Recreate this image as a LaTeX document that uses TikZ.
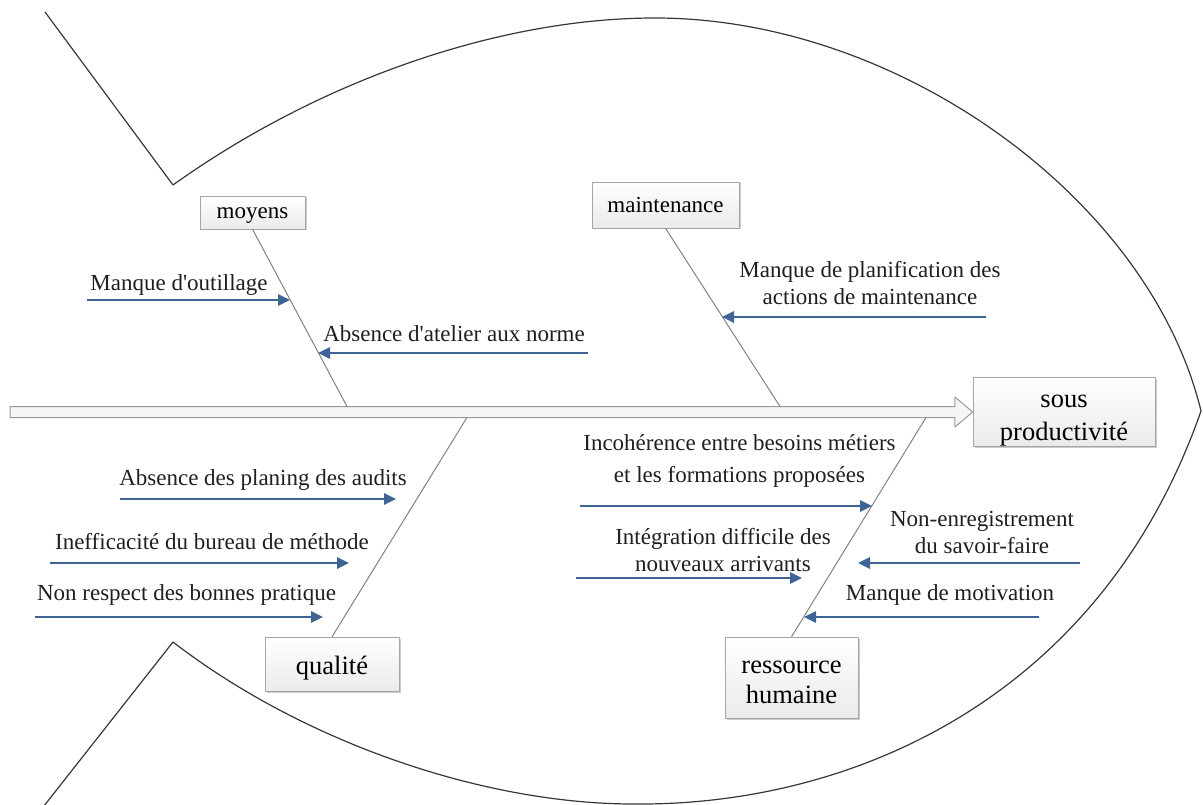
\documentclass[tikz,border=0pt]{standalone}
\usepackage{fontspec}
\setmainfont{Liberation Serif}
\usepackage{xcolor}
\usepackage{tikz}
\usetikzlibrary{
		calc,
		arrows.meta,
		shadows
	}
\definecolor{causeblue}{RGB}{62,100,150}
\definecolor{bonegray}{RGB}{130,130,130}
\definecolor{fishgray}{RGB}{55,55,55}
\tikzset{
		>={Triangle[length=12pt,width=11pt]},
		catbox/.style={draw=gray!70,top color=white,bottom color=gray!16,inner sep=0pt,align=center,
			drop shadow={shadow xshift=1.5pt,shadow yshift=-1.5pt,fill=black,opacity=0.2}},
		causetext/.style={align=center,inner sep=0pt,text=black!88,font=\fontsize{23}{27}\selectfont},
		causearrow/.style={->,draw=causeblue,line width=2.7pt},
		bone/.style={draw=bonegray,line width=1pt},
		spine/.style={draw=gray!80,fill=gray!8,line width=1pt},
		fish/.style={draw=fishgray,line width=1.2pt}
	}

\begin{document}
\begin{tikzpicture}[x=1pt,y=-1pt,line join=round]
          \useasboundingbox (0,0) rectangle (1203,805);

          % fish body
          \begin{scope}
          \clip (0,0) rectangle (1203,805);
          \draw[fish] (45,12) -- (173,185) .. controls (320,80) and (500,18) .. (655,18)
               .. controls (900,18) and (1150,200) .. (1201,411);
          \draw[fish] (40,811) -- (173,642) .. controls (300,740) and (480,804) .. (634,804)
               .. controls (850,806) and (1100,700) .. (1201,411);
          \end{scope}

          % categories
          \node[catbox,minimum width=105,minimum height=33,font=\fontsize{23}{27}\selectfont] (moyens) at (252.5,212.5) {\rule{0pt}{17pt}moyens};
          \node[catbox,minimum width=147,minimum height=46,font=\fontsize{23}{27}\selectfont] (maint) at (665.5,205) {maintenance};
          \node[catbox,minimum width=134,minimum height=54,font=\fontsize{26.5}{30}\selectfont] (qualite) at (332,664) {\rule{0pt}{26pt}qualité};
          \node[catbox,minimum width=133,minimum height=81,font=\fontsize{26.5}{30}\selectfont] (rh) at (791.5,677.5) {\rule{0pt}{22pt}ressource\\humaine};
          \node[catbox,minimum width=182,minimum height=68,font=\fontsize{26.5}{33}\selectfont] (prod) at (1064,412) {\rule{0pt}{30pt}sous\\productivité};

          % spine
          \coordinate (tip) at (prod.west);
          \draw[spine] (10,406.5) -- ($(tip)+(-18,-5.5)$) -- ($(tip)+(-18,-15)$) -- (tip)
               -- ($(tip)+(-18,15)$) -- ($(tip)+(-18,5.5)$) -- (10,417.5) -- cycle;

          % bones
          \coordinate (s1) at (347,406.5);
          \coordinate (s2) at (780,406.5);
          \coordinate (s3) at (467,417.5);
          \coordinate (s4) at (926,417.5);
          \draw[bone] (moyens.south) -- (s1);
          \draw[bone] (maint.south) -- (s2);
          \draw[bone] (qualite.north) -- (s3);
          \draw[bone] (rh.north) -- (s4);

          % moyens
          \node[causetext] (c1) at (179,285) {Manque d\textquotesingle outillage};
          \coordinate (a1) at (87,300);
          \coordinate (b1) at (290,300);
          \draw[causearrow] (a1) -- (b1);
          \node[causetext] (c2) at (454,334) {Absence d\textquotesingle atelier aux norme};
          \coordinate (a2) at (588,353);
          \coordinate (b2) at (318,353);
          \draw[causearrow] (a2) -- (b2);

          % maintenance
          \node[causetext] (c3) at (870,283.5) {Manque de planification des\\actions de maintenance};
          \coordinate (a3) at (986,317);
          \coordinate (b3) at (722,317);
          \draw[causearrow] (a3) -- (b3);

          % qualite
          \node[causetext] (c4) at (263,480) {Absence des planing des audits};
          \coordinate (a4) at (120,499);
          \coordinate (b4) at (396,499);
          \draw[causearrow] (a4) -- (b4);
          \node[causetext] (c5) at (212,542) {Inefficacité du bureau de méthode};
          \coordinate (a5) at (50,563);
          \coordinate (b5) at (349,563);
          \draw[causearrow] (a5) -- (b5);
          \node[causetext] (c6) at (186.5,595) {Non respect des bonnes pratique};
          \coordinate (a6) at (35,617);
          \coordinate (b6) at (323,617);
          \draw[causearrow] (a6) -- (b6);

          % ressource humaine
          \node[causetext,font=\fontsize{23}{32}\selectfont] (c7) at (739.5,461) {Incohérence entre besoins métiers\\et les formations proposées};
          \coordinate (a7) at (580,506);
          \coordinate (b7) at (872,506);
          \draw[causearrow] (a7) -- (b7);
          \node[causetext] (c8) at (723,550.5) {Intégration difficile des\\nouveaux arrivants};
          \coordinate (a8) at (576,578);
          \coordinate (b8) at (802,578);
          \draw[causearrow] (a8) -- (b8);
          \node[causetext] (c9) at (982,532.5) {Non-enregistrement\\du savoir-faire};
          \coordinate (a9) at (1080,563);
          \coordinate (b9) at (858,563);
          \draw[causearrow] (a9) -- (b9);
          \node[causetext] (c10) at (950,595) {Manque de motivation};
          \coordinate (a10) at (1039,617);
          \coordinate (b10) at (804,617);
          \draw[causearrow] (a10) -- (b10);

          \end{tikzpicture}
\end{document}
